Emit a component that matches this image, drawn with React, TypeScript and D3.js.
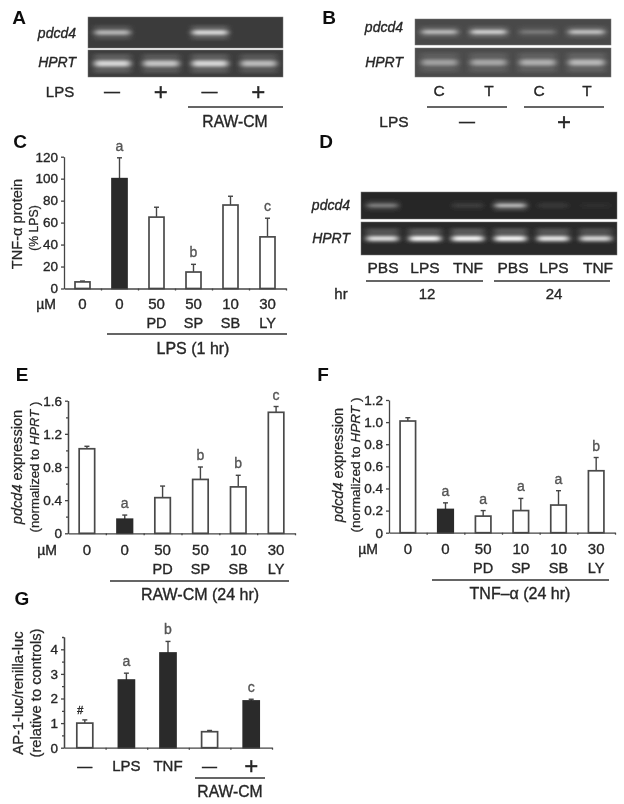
import React, { useRef, useEffect } from 'react';
import * as d3 from 'd3';

const FONT = '"Liberation Sans", Arial, sans-serif';
const INK = '#262626';

// Gel band brightness (0-1)
const gelAPdcd4 = [0.6, 0, 0.8, 0];
const gelAHprt = [0.75, 0.65, 0.75, 0.6];
const gelBPdcd4 = [0.65, 0.8, 0.25, 0.7];
const gelBHprt = [0.42, 0.45, 0.5, 0.55];
const gelDPdcd4 = [0.4, 0, 0.1, 0.7, 0.07, 0.03];
const gelDHprt = [0.85, 1, 1, 1, 0.9, 0.8];

// Bar panels
const catC = ['0', '0', '50', '50', '10', '30'];
const subC = ['', '', 'PD', 'SP', 'SB', 'LY'];
const valC = [6, 100, 65, 15, 76, 47];
const topC = [6.8, 119, 74, 22, 84, 64];
const letC = ['', 'a', '', 'b', '', 'c'];
const darkC = [1];
const ticksC = [0, 20, 40, 60, 80, 100, 120];

const catE = ['0', '0', '50', '50', '10', '30'];
const subE = ['', '', 'PD', 'SP', 'SB', 'LY'];
const valE = [1.02, 0.17, 0.43, 0.65, 0.56, 1.46];
const topE = [1.05, 0.22, 0.57, 0.8, 0.7, 1.53];
const letE = ['', 'a', '', 'b', 'b', 'c'];
const darkE = [1];
const ticksE = [0, 0.4, 0.8, 1.2, 1.6];
const minorE = [0.2, 0.6, 1.0, 1.4];

const catF = ['0', '0', '50', '10', '10', '30'];
const subF = ['', '', 'PD', 'SP', 'SB', 'LY'];
const valF = [1.01, 0.21, 0.15, 0.2, 0.25, 0.56];
const topF = [1.04, 0.27, 0.2, 0.31, 0.38, 0.68];
const letF = ['', 'a', 'a', 'a', 'a', 'b'];
const darkF = [1];
const ticksF = [0, 0.2, 0.4, 0.6, 0.8, 1.0, 1.2];

const catG = ['—', 'LPS', 'TNF', '—', '+'];
const valG = [1.0, 2.75, 3.85, 0.65, 1.9];
const topG = [1.13, 3.03, 4.32, 0.7, 1.97];
const letG = ['', 'a', 'b', '', 'c'];
const darkG = [1, 2, 4];
const ticksG = [0, 1, 2, 3, 4];
const minorG = [0.5, 1.5, 2.5, 3.5, 4.5];

const App = () => {
    const ref = useRef(null);

    useEffect(() => {
        const root = d3.select(ref.current);
        root.selectAll('*').remove();

        const defs = root.append('defs');
        defs.append('filter').attr('id', 'scan').append('feGaussianBlur').attr('stdDeviation', 0.45);
        defs.append('filter').attr('id', 'band')
            .attr('x', '-40%').attr('y', '-150%').attr('width', '180%').attr('height', '400%')
            .append('feGaussianBlur').attr('stdDeviation', '3 1.8');

        const svg = root.append('g').attr('filter', 'url(#scan)');

        const label = (x, y, str, size = 15, anchor = 'middle') =>
            svg.append('text')
                .attr('x', x).attr('y', y)
                .attr('text-anchor', anchor)
                .attr('font-family', FONT)
                .attr('font-size', size)
                .attr('fill', INK)
                .attr('stroke', INK)
                .attr('stroke-width', 0.35)
                .text(str);

        const rule = (x1, x2, y) =>
            svg.append('line')
                .attr('x1', x1).attr('x2', x2).attr('y1', y).attr('y2', y)
                .attr('stroke', '#333').attr('stroke-width', 1.3);

        const panel = (x, y, str) =>
            label(x, y, str, 19).attr('font-weight', 'bold').attr('stroke', 'none').attr('fill', '#111');

        const gene = (x, y, str) => label(x, y, str, 14, 'end').attr('font-style', 'italic');

        const gelRow = (x0, x1, y0, y1, values, bg, bandH, haze = 0) => {
            const x = d3.scaleBand().domain(d3.range(values.length)).range([x0, x1]);
            svg.append('rect')
                .attr('x', x0).attr('y', y0)
                .attr('width', x1 - x0).attr('height', y1 - y0)
                .attr('fill', bg).attr('stroke', '#777').attr('stroke-width', 0.5);
            const clip = 'clip' + Math.round(x0) + '-' + Math.round(y0);
            defs.append('clipPath').attr('id', clip).append('rect')
                .attr('x', x0).attr('y', y0).attr('width', x1 - x0).attr('height', y1 - y0);
            const g = svg.append('g').attr('clip-path', 'url(#' + clip + ')');
            const mid = (y0 + y1) / 2;
            // faint smear around each band
            g.selectAll('rect.haze')
                .data(values)
                .join('rect')
                .attr('class', 'haze')
                .attr('x', (d, i) => x(i) + x.bandwidth() * 0.12)
                .attr('width', x.bandwidth() * 0.76)
                .attr('y', mid - bandH * 1.6 - haze)
                .attr('height', bandH * 3.2)
                .attr('fill', '#fff')
                .attr('opacity', d => d * 0.22)
                .attr('filter', 'url(#band)');
            g.selectAll('rect.core')
                .data(values)
                .join('rect')
                .attr('class', 'core')
                .attr('x', (d, i) => x(i) + x.bandwidth() * 0.14)
                .attr('width', x.bandwidth() * 0.72)
                .attr('y', mid - bandH / 2)
                .attr('height', bandH)
                .attr('rx', 2)
                .attr('fill', '#fff')
                .attr('opacity', d => d)
                .attr('filter', 'url(#band)');
        };

        const yLabel = (x, y, size, parts) => {
            const t = svg.append('text')
                .attr('transform', 'translate(' + x + ',' + y + ') rotate(-90)')
                .attr('text-anchor', 'middle')
                .attr('font-family', FONT)
                .attr('font-size', size)
                .attr('fill', INK)
                .attr('stroke', INK)
                .attr('stroke-width', 0.25);
            parts.forEach(p => {
                t.append('tspan').attr('font-style', p[1] ? 'italic' : 'normal').text(p[0]);
            });
        };

        const bars = (o) => {
            const x = d3.scaleBand().domain(d3.range(o.values.length)).range([o.x0, o.x1]);
            const edges = d3.scaleLinear().domain([0, o.values.length]).range([o.x0, o.x1]);
            const y = d3.scaleLinear().domain([0, o.yMax]).range([o.y0, o.yTop]);
            const w = o.barW;
            const cx = i => x(i) + x.bandwidth() / 2;

            // error bars go under the bars
            const err = svg.append('g').attr('stroke', '#444').attr('stroke-width', 1.4);
            o.values.forEach((v, i) => {
                err.append('line').attr('x1', cx(i)).attr('x2', cx(i)).attr('y1', y(v)).attr('y2', y(o.tops[i]));
                err.append('line').attr('x1', cx(i) - 2.5).attr('x2', cx(i) + 2.5).attr('y1', y(o.tops[i])).attr('y2', y(o.tops[i]));
            });

            svg.append('g')
                .selectAll('rect')
                .data(o.values)
                .join('rect')
                .attr('x', (d, i) => cx(i) - w / 2)
                .attr('width', w)
                .attr('y', d => y(d))
                .attr('height', d => y(0) - y(d))
                .attr('fill', (d, i) => o.dark.includes(i) ? '#2a2a2a' : '#fff')
                .attr('stroke', (d, i) => o.dark.includes(i) ? '#2a2a2a' : '#4a4a4a')
                .attr('stroke-width', 1.7);

            const axisStyle = g => {
                g.selectAll('path,line').attr('stroke', '#444').attr('stroke-width', 1.3);
                g.selectAll('text')
                    .attr('font-family', FONT)
                    .attr('font-size', 13.5)
                    .attr('fill', INK)
                    .attr('stroke', INK)
                    .attr('stroke-width', 0.35);
            };

            svg.append('g')
                .attr('transform', 'translate(' + o.x0 + ',0)')
                .call(d3.axisLeft(y).tickValues(o.ticks).tickSize(3).tickSizeOuter(0).tickPadding(3).tickFormat(o.fmt))
                .call(axisStyle);
            if (o.minor) {
                svg.append('g')
                    .attr('transform', 'translate(' + o.x0 + ',0)')
                    .call(d3.axisLeft(y).tickValues(o.minor).tickSize(2).tickSizeOuter(0).tickFormat(() => ''))
                    .call(axisStyle);
            }
            svg.append('g')
                .attr('transform', 'translate(0,' + o.y0 + ')')
                .call(d3.axisBottom(edges).tickValues(d3.range(1, o.values.length + 1)).tickSize(2).tickSizeOuter(0).tickFormat(() => ''))
                .call(axisStyle);

            o.letters.forEach((s, i) => {
                if (s) label(cx(i), y(o.tops[i]) - 7, s, 14).attr('fill', '#555').attr('stroke', '#555');
            });
            o.cats.forEach((s, i) => {
                const big = s === '+';
                label(cx(i), o.row1 + (big ? 3 : 0), s, big ? 24 : 15);
                if (o.subs && o.subs[i]) label(cx(i), o.row2, o.subs[i], 14.5);
            });
        };

        // A
        panel(19, 24, 'A');
        gelRow(88, 283, 17, 48, gelAPdcd4, '#3a3a3a', 4.5);
        gelRow(88, 283, 50, 77, gelAHprt, '#3c3c3c', 6);
        gene(76, 38, 'pdcd4');
        gene(76, 67, 'HPRT');
        label(60, 97, 'LPS', 15);
        ['—', '+', '—', '+'].forEach((s, i) => {
            label(d3.scaleBand().domain(d3.range(4)).range([88, 283])(i) + 24, s === '+' ? 100 : 97, s, s === '+' ? 24 : 16);
        });
        rule(188, 283, 107);
        label(235, 127, 'RAW-CM', 15.7);

        // B
        panel(329, 24, 'B');
        gelRow(415, 611, 19, 45, gelBPdcd4, '#4a4a4a', 3.5);
        gelRow(415, 611, 48, 77, gelBHprt, '#4c4c4c', 6);
        gene(403, 32, 'pdcd4');
        gene(403, 67, 'HPRT');
        ['C', 'T', 'C', 'T'].forEach((s, i) => {
            label([439, 489, 539, 587][i], 96, s, 15.5);
        });
        rule(427, 507, 107);
        rule(524, 604, 107);
        label(394, 127, 'LPS', 15.5);
        label(467, 127, '—', 16);
        label(564, 130, '+', 24);

        // C
        panel(20, 148, 'C');
        bars({
            x0: 64, x1: 286, y0: 288.5, yTop: 156.7, yMax: 120, barW: 15,
            values: valC, tops: topC, letters: letC, dark: darkC, cats: catC, subs: subC,
            ticks: ticksC, fmt: d3.format('d'), row1: 309, row2: 328,
        });
        label(46, 309, 'µM', 14);
        yLabel(22, 224, 14.6, [['TNF-α protein', false]]);
        yLabel(38, 228, 12.2, [['(% LPS)', false]]);
        rule(107, 287, 334);
        label(193, 354, 'LPS (1 hr)', 16);

        // D
        panel(326, 148, 'D');
        gelRow(361, 617, 192, 219, gelDPdcd4, '#262626', 3.5);
        gelRow(361, 617, 222, 255, gelDHprt, '#2a2a2a', 4.5, 3);
        gene(350, 210, 'pdcd4');
        gene(350, 243, 'HPRT');
        ['PBS', 'LPS', 'TNF', 'PBS', 'LPS', 'TNF'].forEach((s, i) => {
            label([383, 425, 468, 513, 554, 598][i], 273, s, 15.5);
        });
        rule(366, 483, 281);
        rule(494, 610, 281);
        label(341, 299, 'hr', 15);
        label(427, 299, '12', 15);
        label(554, 299, '24', 15);

        // E
        panel(22, 381, 'E');
        bars({
            x0: 68, x1: 295, y0: 533.3, yTop: 400.7, yMax: 1.6, barW: 15.5,
            values: valE, tops: topE, letters: letE, dark: darkE, cats: catE, subs: subE,
            ticks: ticksE, minor: minorE, fmt: d => d === 0 ? '0' : d3.format('.1f')(d), row1: 555, row2: 574,
        });
        label(47, 555, 'µM', 14);
        yLabel(22, 467, 14.6, [['pdcd4', true], [' expression', false]]);
        yLabel(39, 467, 13.2, [['(normalized to ', false], ['HPRT', true], [' )', false]]);
        rule(110, 289, 581);
        label(200, 600, 'RAW-CM (24 hr)', 16);

        // F
        panel(323, 381, 'F');
        bars({
            x0: 389, x1: 615, y0: 532.7, yTop: 400, yMax: 1.2, barW: 15.5,
            values: valF, tops: topF, letters: letF, dark: darkF, cats: catF, subs: subF,
            ticks: ticksF, fmt: d => d === 0 ? '0' : d3.format('.1f')(d), row1: 554, row2: 573,
        });
        label(368, 554, 'µM', 14);
        yLabel(343, 465, 14.6, [['pdcd4', true], [' expression', false]]);
        yLabel(360, 465, 13.6, [['(normalized to ', false], ['HPRT', true], [' )', false]]);
        rule(432, 609, 580);
        label(520, 599, 'TNF–α (24 hr)', 16);

        // G
        panel(22, 605, 'G');
        bars({
            x0: 64, x1: 272, y0: 747.7, yTop: 637, yMax: 4.5, barW: 16,
            values: valG, tops: topG, letters: letG, dark: darkG, cats: catG,
            ticks: ticksG, minor: minorG, fmt: d3.format('d'), row1: 771,
        });
        label(80, 714, '#', 11).attr('font-style', 'italic');
        yLabel(23, 693, 14.7, [['AP-1-luc/renilla-luc', false]]);
        yLabel(41, 693, 14.7, [['(relative to controls)', false]]);
        rule(195, 265, 778);
        label(230, 797, 'RAW-CM', 15.7);
    }, []);

    return (
        <svg
            ref={ref}
            width={624}
            height={804}
            style={{ position: 'absolute', left: 0, top: 0, background: '#fff' }}
        />
    );
};

export default App;
